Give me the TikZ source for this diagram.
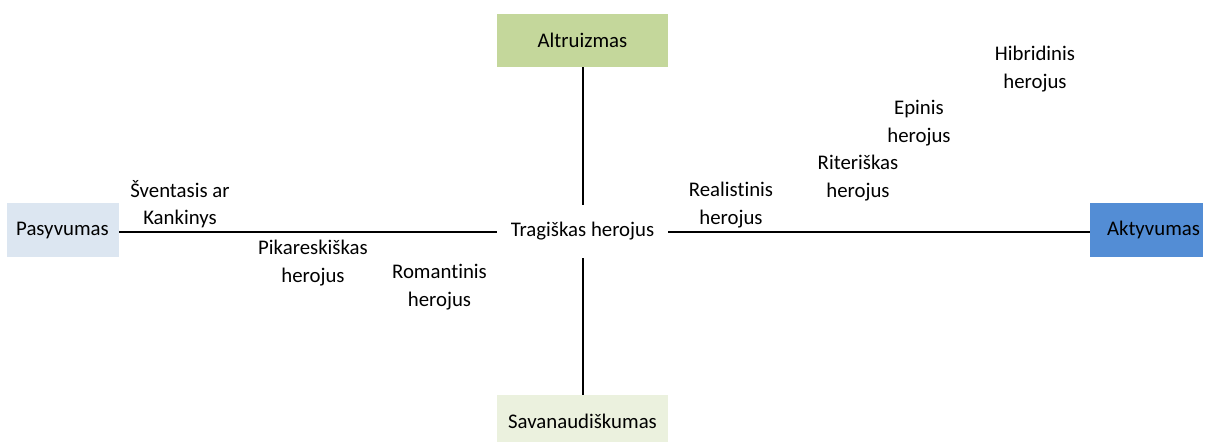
\documentclass[tikz,border=0pt]{standalone}
\usepackage{fontspec}
\setmainfont[Ligatures=NoCommon]{Carlito}
\usepackage{xcolor}
\usetikzlibrary{positioning}

\definecolor{altgreen}{RGB}{196,215,155}
\definecolor{savgreen}{RGB}{235,241,222}
\definecolor{pasblue}{RGB}{220,230,241}
\definecolor{aktblue}{RGB}{83,141,213}

\begin{document}
\begin{tikzpicture}[x=0.5pt,y=-0.5pt,
  txt/.style={font=\fontsize{10.4}{13.8}\selectfont, align=center, inner sep=0pt, text=black},
  pole/.style={txt, minimum width=85.5pt, minimum height=26.5pt},
  side/.style={txt, minimum width=56pt, minimum height=27pt},
  axis/.style={black, line width=1pt}]

\useasboundingbox (0,0) rectangle (1205,441);
\clip (0,0) rectangle (1205,441);

% poles
{
\node[pole, fill=altgreen] (altruizmas) at (582.5,40.5) {Altruizmas};
\node[pole, fill=savgreen] (savanaud) at (582.5,421.5) {Savanaudiškumas};
\node[side, fill=pasblue] (pasyvumas) at (62.5,230) {Pasyvumas};
\node[side, fill=aktblue, text width=53.5pt, inner xsep=1.5pt, align=right] (aktyvumas) at (1146.5,230) {Aktyvumas};
}

% center
\node[pole] (tragiskas) at (582.5,231.5) {Tragiškas herojus};

% axes
{
\draw[axis] (altruizmas.south) -- (tragiskas.north);
\draw[axis] (tragiskas.south) -- (savanaud.north);
\draw[axis] (pasyvumas.east |- tragiskas.west) -- (tragiskas.west);
\draw[axis] (tragiskas.east) -- (aktyvumas.west |- tragiskas.east);
}

% heroes
{
\node[txt] (sventasis) at (180,204) {Šventasis ar\\Kankinys};
\node[txt] (pikaresk) at (313,263) {Pikareskiškas\\herojus};
\node[txt] (romantinis) at (439.5,287) {Romantinis\\herojus};
\node[txt] (realistinis) at (731,205) {Realistinis\\herojus};
\node[txt] (riteriskas) at (858,178) {Riteriškas\\herojus};
\node[txt] (epinis) at (919,123) {Epinis\\herojus};
\node[txt] (hibridinis) at (1035,69) {Hibridinis\\herojus};
}
\end{tikzpicture}
\end{document}
